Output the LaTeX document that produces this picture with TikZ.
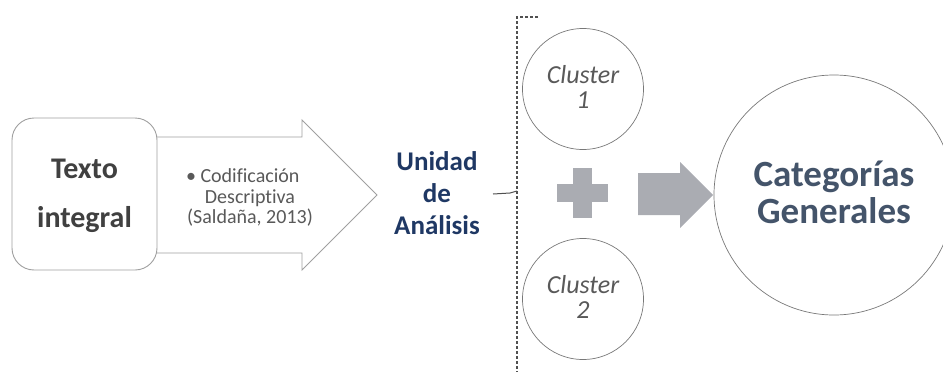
\documentclass[tikz,border=0pt]{standalone}
\usepackage{fontspec}
\setmainfont{Carlito}[Ligatures={NoCommon}]
\definecolor{boxline}{RGB}{160,160,160}
\definecolor{txtgray}{RGB}{64,64,64}
\definecolor{lightgray2}{RGB}{89,89,89}
\definecolor{navy}{RGB}{31,56,100}
\definecolor{slate}{RGB}{68,84,106}
\definecolor{shapegray}{RGB}{170,172,178}
\definecolor{circline}{RGB}{120,120,120}
\definecolor{bracegray}{RGB}{80,80,80}
\begin{document}
\begin{tikzpicture}[x=1pt,y=-1pt,
  outlinebox/.style={draw=boxline,line width=0.9pt,fill=white},
  clustercirc/.style={circle,draw=circline,line width=0.7pt,minimum size=121pt,inner sep=0pt},
  clustertxt/.style={font=\fontsize{26}{25}\selectfont\itshape,text=lightgray2,align=center},
  bracestyle/.style={draw=bracegray,line width=1.2pt,dash pattern=on 3pt off 2pt}
]
\useasboundingbox (0,0) rectangle (943,372);

% hollow arrow
\draw[outlinebox] (140,137) -- (302,137) -- (302,120) -- (377,195) -- (302,270) -- (302,253) -- (140,253) -- cycle;
% rounded box
\node[outlinebox,rounded corners=22pt,minimum width=145pt,minimum height=152pt,inner sep=0pt] (box) at (84.5,194) {};
\node[font=\fontsize{30}{49}\selectfont\bfseries,text=txtgray,align=center] (texto) at (84.5,196) {Texto\\integral};
\node[font=\fontsize{20}{20.5}\selectfont,text=lightgray2,align=center] (cod) at (250,197.5)
  {\makebox[0pt][r]{\textbullet\ }Codificación\\Descriptiva\\(Saldaña, 2013)};

% unidad
\node[font=\fontsize{27}{32}\selectfont\bfseries,text=navy,align=center] (unidad) at (437,193) {Unidad\\de\\Análisis};

% brace
\coordinate (btop) at (538,17);
\coordinate (bcorner) at (517,17);
\coordinate (bbot) at (517,372);
\coordinate (btip) at (493,194);
\draw[bracestyle] (btop) -- (bcorner) -- (bbot);
\draw[draw=bracegray,line width=1pt] (btip) -- (510,193) -- (517,191);

% clusters
\node[clustercirc] (c1) at (583,89) {};
\node[clustertxt] (c1t) at (583,87) {Cluster\\1};
\node[clustercirc] (c2) at (583,299) {};
\node[clustertxt] (c2t) at (583,297) {Cluster\\2};

% plus
\fill[shapegray] (557,184) rectangle (608,202);
\fill[shapegray] (573,168) rectangle (592,218);

% solid arrow
\fill[shapegray] (638,173) -- (680,173) -- (680,162) -- (713,195) -- (680,228) -- (680,215) -- (638,215) -- cycle;

% big circle
\node[circle,draw=circline,line width=0.7pt,minimum size=240pt,inner sep=0pt] (cat) at (834,195) {};
\node[font=\fontsize{37}{37}\selectfont\bfseries,text=slate,align=center] (catt) at (834,192.5) {Categorías\\Generales};
\end{tikzpicture}
\end{document}
